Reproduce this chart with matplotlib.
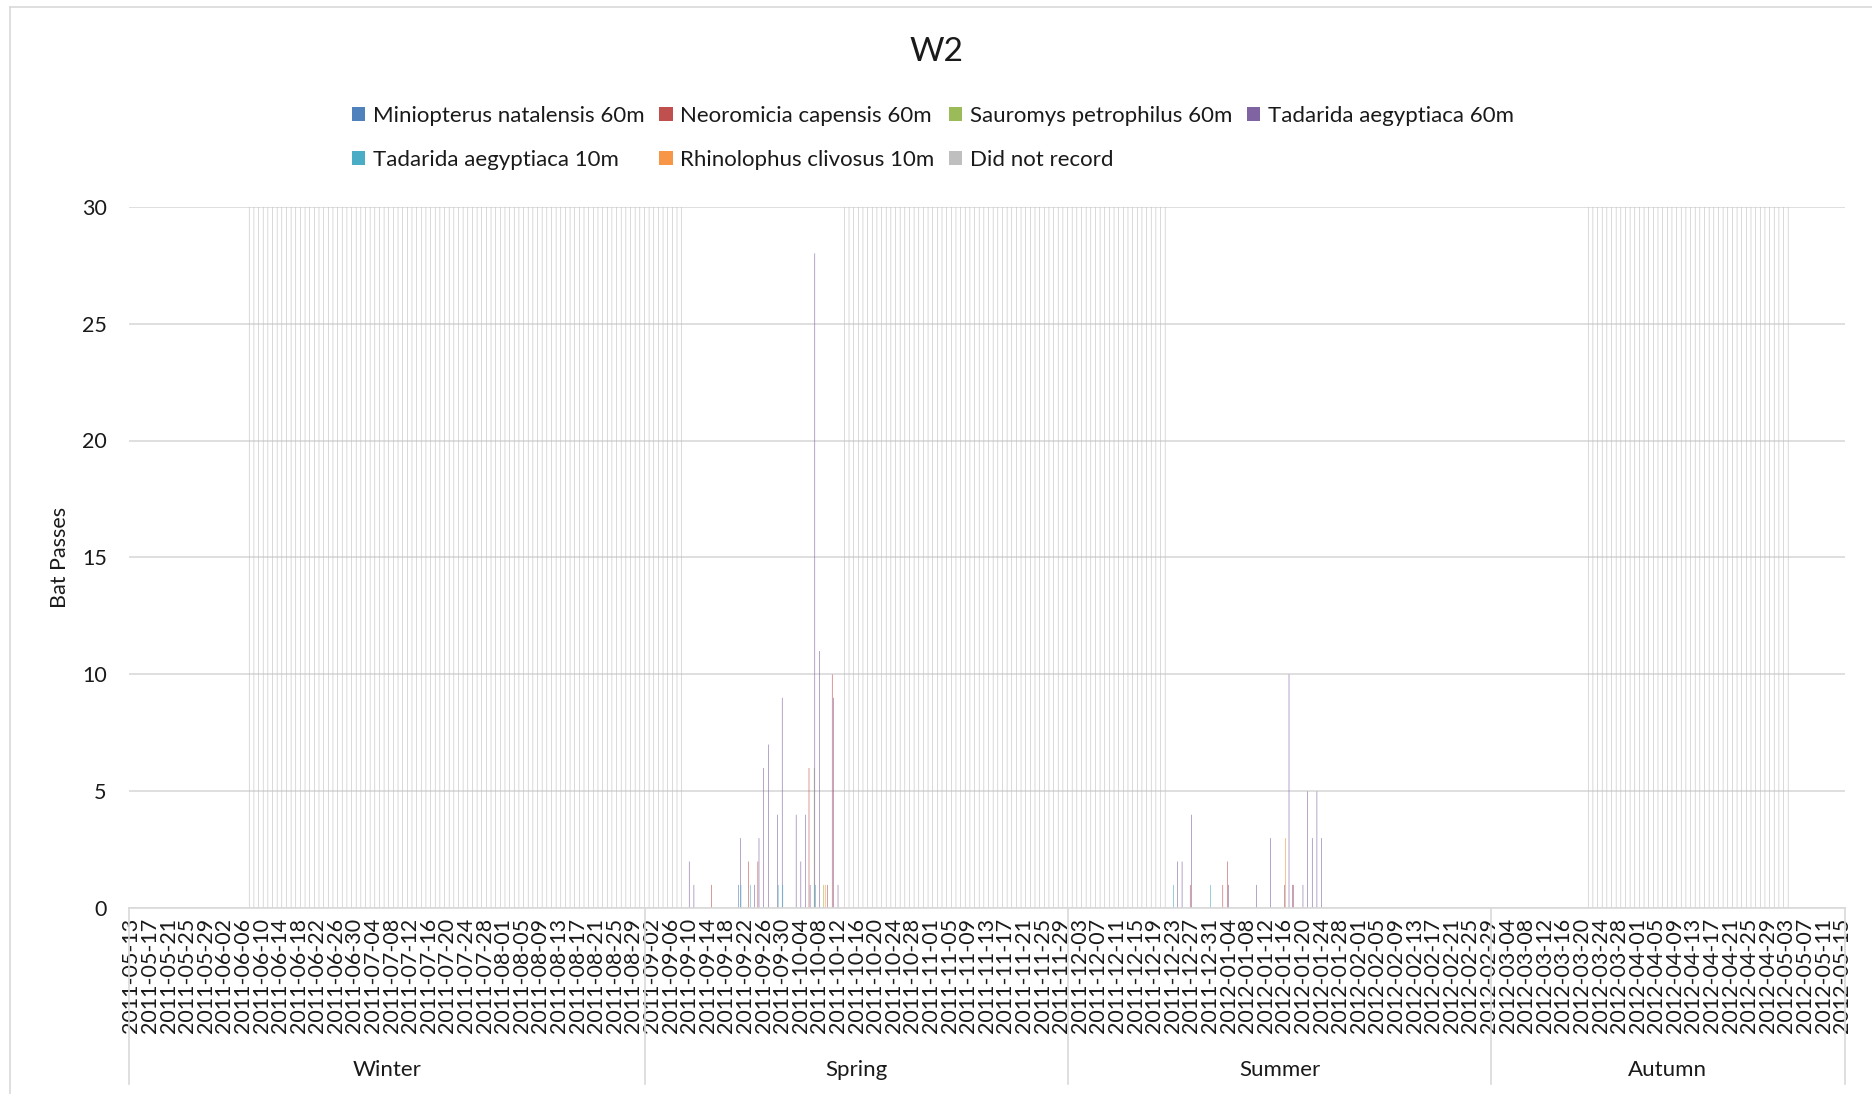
import numpy as np
import pandas as pd
import matplotlib
matplotlib.use("Agg")
import matplotlib.pyplot as plt
from matplotlib.patches import Patch
from matplotlib.lines import Line2D
import matplotlib.transforms as mtransforms

# ---------------- data ----------------
START_DATE = "2011-05-13"
END_DATE = "2012-05-15"
dates = pd.date_range(START_DATE, END_DATE, freq="D")
date_labels = [d.strftime("%Y-%m-%d") for d in dates]

series_names = [
    "Miniopterus natalensis 60m",
    "Neoromicia capensis 60m",
    "Sauromys petrophilus 60m",
    "Tadarida aegyptiaca 60m",
    "Tadarida aegyptiaca 10m",
    "Rhinolophus clivosus 10m",
    "Did not record",
]
series_colors = ["#4F81BD", "#C0504D", "#9BBB59", "#8064A2", "#4BACC6", "#F79646", "#BFBFBF"]

miniopterus_60m = {"2011-09-21": 1}
neoromicia_60m = {"2011-09-15": 1, "2011-09-23": 2, "2011-09-25": 2, "2011-10-06": 6,
                  "2011-10-10": 1, "2011-10-11": 10, "2011-12-27": 1, "2012-01-03": 1,
                  "2012-01-04": 2, "2012-01-18": 1}
sauromys_60m = {"2011-10-07": 6, "2011-10-09": 1}
tadarida_60m = {"2011-09-10": 2, "2011-09-11": 1, "2011-09-21": 3, "2011-09-24": 1,
                "2011-09-25": 3, "2011-09-26": 6, "2011-09-27": 7, "2011-09-29": 4,
                "2011-09-30": 9, "2011-10-03": 4, "2011-10-04": 2, "2011-10-05": 4,
                "2011-10-06": 1, "2011-10-07": 28, "2011-10-08": 11, "2011-10-11": 9,
                "2011-10-12": 1, "2011-12-24": 2, "2011-12-25": 2, "2011-12-27": 4,
                "2012-01-04": 1, "2012-01-10": 1, "2012-01-13": 3, "2012-01-16": 1,
                "2012-01-17": 10, "2012-01-18": 1, "2012-01-20": 1, "2012-01-21": 5,
                "2012-01-22": 3, "2012-01-23": 5, "2012-01-24": 3}
tadarida_10m = {"2011-09-21": 1, "2011-09-23": 1, "2011-09-29": 1, "2011-09-30": 1,
                "2011-10-07": 1, "2011-12-23": 1, "2011-12-31": 1}
rhinolophus_10m = {"2011-10-09": 1, "2012-01-16": 3}
did_not_record_value = 30
did_not_record_periods = [("2011-06-07", "2011-09-08"),
                          ("2011-10-13", "2011-12-21"),
                          ("2012-03-21", "2012-05-03")]

seasons = ["Winter", "Spring", "Summer", "Autumn"]
season_starts = ["2011-05-13", "2011-09-01", "2011-12-01", "2012-03-01"]

y_ticks = [0, 5, 10, 15, 20, 25, 30]
label_step = 4

# ---------------- build arrays ----------------
n = len(dates)
idx = {lab: i for i, lab in enumerate(date_labels)}

def to_array(d):
    arr = np.zeros(n)
    for k, v in d.items():
        arr[idx[k]] = v
    return arr

dnr = np.zeros(n)
for a, b in did_not_record_periods:
    dnr[idx[a]:idx[b] + 1] = did_not_record_value

all_series = [to_array(miniopterus_60m), to_array(neoromicia_60m), to_array(sauromys_60m),
              to_array(tadarida_60m), to_array(tadarida_10m), to_array(rhinolophus_10m), dnr]

# ---------------- plot ----------------
plt.rcParams['font.family'] = ['Lato', 'DejaVu Sans']
TXT = "#1a1a1a"
GRID = "#D9D9D9"

W, H = 1872, 1094
fig = plt.figure(figsize=(W / 100, H / 100), dpi=100)
ax_l, ax_r, ax_t, ax_b = 129, 1844.6, 206.6, 908.3
ax = fig.add_axes([ax_l / W, 1 - ax_b / H, (ax_r - ax_l) / W, (ax_b - ax_t) / H])

x = np.arange(n)
bw = 0.85 / 7
for j, (vals, col, name) in enumerate(zip(all_series, series_colors, series_names)):
    m = vals > 0
    ax.bar(x[m] + (j - 3) * bw, vals[m], width=bw, color=col, linewidth=0,
           label=name, zorder=2, snap=False, antialiased=True)

ax.set_xlim(-0.5, n - 0.5)
ax.set_ylim(0, 30)
ax.set_yticks(y_ticks)
ax.set_axisbelow(True)
ax.yaxis.grid(True, color=GRID, linewidth=1.2)
for s in ["left", "right", "top"]:
    ax.spines[s].set_visible(False)
ax.spines["bottom"].set_color(GRID)
ax.spines["bottom"].set_linewidth(1.2)

tick_pos = x[::label_step]
ax.set_xticks(tick_pos)
ax.set_xticklabels([date_labels[i] for i in tick_pos], rotation=90, fontsize=15.5, color=TXT)
ax.tick_params(axis="x", length=0, pad=7)
ax.tick_params(axis="y", length=0, pad=16, labelsize=15.5, labelcolor=TXT)

fig.text(60 / W, 1 - 557 / H, "Bat Passes", rotation=90, ha="center", va="center",
         fontsize=15.5, color=TXT)

fig.text(936 / W, 1 - 52 / H, "W2", ha="center", va="center", fontsize=24, color=TXT)

# legend (row-major order like the reference)
handles = [Patch(facecolor=c, edgecolor="none") for c in series_colors]
order = [0, 4, 1, 5, 2, 6, 3]
fig.legend([handles[i] for i in order], [series_names[i] for i in order], ncol=4,
           loc="center", bbox_to_anchor=(933 / W, 1 - 138 / H), frameon=False,
           fontsize=16, handlelength=0.6, handleheight=0.6, handletextpad=0.35,
           columnspacing=0.65, labelspacing=1.1, labelcolor=TXT)

# multi-level season axis
trans = mtransforms.blended_transform_factory(ax.transData, fig.transFigure)
bounds = [idx[s] - 0.5 for s in season_starts] + [n - 0.5]
y_top = 1 - ax_b / H
y_bot = 1 - 1084 / H
for bx in bounds:
    fig.add_artist(Line2D([bx, bx], [y_top, y_bot], transform=trans, color=GRID,
                          linewidth=1.2, clip_on=False))
for k, name in enumerate(seasons):
    cx = (bounds[k] + bounds[k + 1]) / 2
    fig.text(cx, 1 - 1070 / H, name, transform=trans, ha="center", va="center",
             fontsize=16, color=TXT)

# chart area border
fig.add_artist(Line2D([10 / W, 10 / W], [0, 1 - 7 / H], transform=fig.transFigure,
                      color=GRID, linewidth=1.2))
fig.add_artist(Line2D([10 / W, 1], [1 - 7 / H, 1 - 7 / H], transform=fig.transFigure,
                      color=GRID, linewidth=1.2))

fig.savefig("out.png", dpi=100)
